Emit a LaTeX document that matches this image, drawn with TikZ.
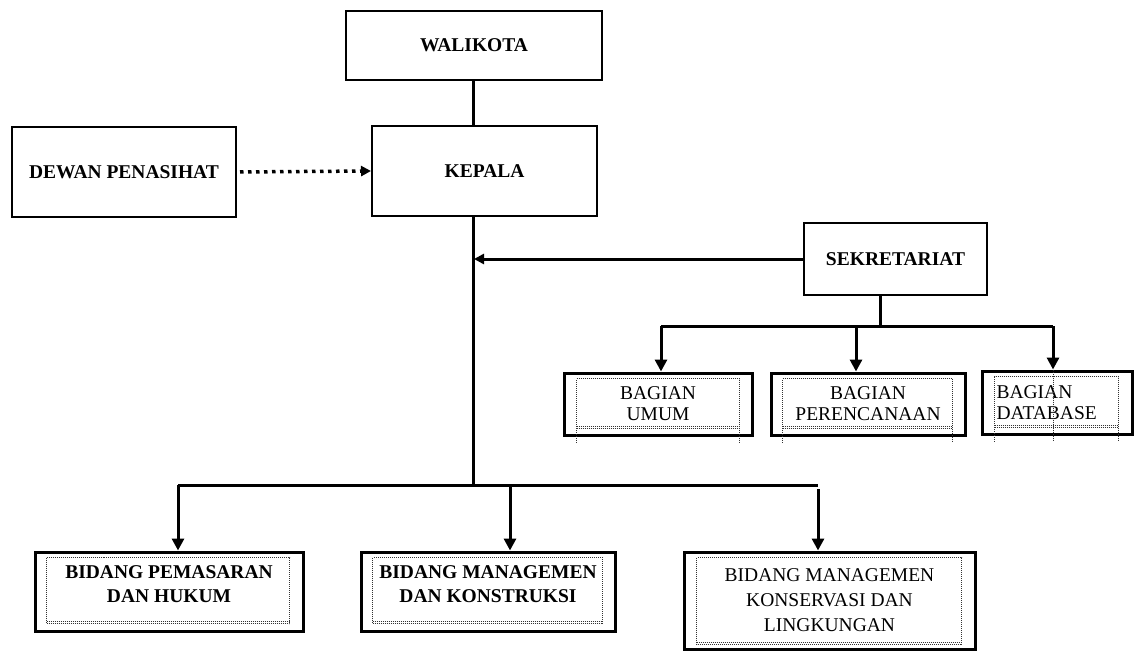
\documentclass[tikz,border=0pt]{standalone}
\usepackage{fontspec}
\setmainfont{Liberation Serif}
\usetikzlibrary{arrows.meta,calc,positioning}

\begin{document}
\begin{tikzpicture}[x=1pt, y=-1pt,
      box/.style={rectangle, draw=black, line width=2pt, align=center, font=\fontsize{19.5}{23}\selectfont\bfseries},
      unit/.style={rectangle, draw=black, line width=3pt, align=center, font=\fontsize{19.5}{24}\selectfont\bfseries},
      subunit/.style={rectangle, draw=black, line width=3pt, align=center, font=\fontsize{19.5}{21}\selectfont},
      dots/.style={draw=black!80, line width=0.7pt, dash pattern=on 1pt off 1pt},
      link/.style={line width=3pt, color=black},
      arr/.style={-{Triangle[length=12pt, width=12pt]}, line width=3pt, color=black},
      dotarr/.style={-{Triangle[length=10pt, width=10pt]}, line width=3.5pt, dash pattern=on 3.5pt off 4.5pt, color=black}
    ]
      \useasboundingbox (0,0) rectangle (1139,650);

      % Top: Walikota, Kepala, Dewan
      \node[box, minimum width=256pt, minimum height=69pt] (walikota) at (474, 45.5) {WALIKOTA};
      \node[box, minimum width=225pt, minimum height=90pt] (kepala) at (484.5, 171) {KEPALA};
      \node[box, minimum width=224pt, minimum height=90pt] (dewan) at (124, 172) {DEWAN PENASIHAT};

      % Right: Sekretariat and its Bagian
      \node[box, minimum width=183pt, minimum height=72pt] (sekretariat) at (895.5, 259) {SEKRETARIAT};
      \node[subunit, minimum width=188pt, minimum height=62pt] (umum) at (658, 404) {BAGIAN\\UMUM};
      \node[subunit, minimum width=194pt, minimum height=62pt] (perencanaan) at (868, 404) {BAGIAN\\PERENCANAAN};
      \node[subunit, minimum width=150pt, minimum height=63pt, text width=121pt, inner xsep=14.5pt, align=left] (database) at (1057, 402.5) {BAGIAN\\DATABASE};

      % Bottom: Bidang
      \node[unit, minimum width=268pt, minimum height=79pt, text depth=14pt] (pemasaran) at (169, 591.5) {BIDANG PEMASARAN\\DAN HUKUM};
      \node[unit, minimum width=254pt, minimum height=79pt, text depth=14pt] (konstruksi) at (488, 591.5) {BIDANG MANAGEMEN\\DAN KONSTRUKSI};
      \node[subunit, minimum width=291pt, minimum height=97pt, font=\fontsize{19.5}{25}\selectfont] (konservasi) at (829.5, 600.5) {BIDANG MANAGEMEN\\KONSERVASI DAN\\LINGKUNGAN};

      % Dotted inner frames
      \draw[dots] ($(pemasaran.north west)+(13,7)$) rectangle ($(pemasaran.south east)+(-15,-9)$);
      \draw[dots] ($(pemasaran.south west)+(13,-11)$) -- ($(pemasaran.south east)+(-15,-11)$);
      \draw[dots] ($(konstruksi.north west)+(13,7)$) rectangle ($(konstruksi.south east)+(-14,-9)$);
      \draw[dots] ($(konstruksi.south west)+(13,-11)$) -- ($(konstruksi.south east)+(-14,-11)$);
      \draw[dots] ($(konservasi.north west)+(14,7)$) rectangle ($(konservasi.south east)+(-15,-6)$);
      \draw[dots] ($(konservasi.south west)+(14,-8)$) -- ($(konservasi.south east)+(-15,-8)$);
      \foreach \b/\l/\r in {umum/14/-14, perencanaan/13/-14, database/14/-15} {
        \draw[dots] ($(\b.south west)+(\l,6)$) -- ($(\b.north west)+(\l,7)$) -- ($(\b.north east)+(\r,7)$) -- ($(\b.south east)+(\r,6)$);
        \draw[dots] ($(\b.south west)+(\l,-8)$) -- ($(\b.south east)+(\r,-8)$);
        \draw[dots] ($(\b.south west)+(\l,-10)$) -- ($(\b.south east)+(\r,-10)$);
      }

      % Junctions
      \coordinate (bus) at (473, 485);
      \coordinate (b1) at (178, 485);
      \coordinate (b2) at (510, 485);
      \coordinate (b3) at (818, 485);
      \coordinate (sbus) at (880, 326);
      \coordinate (s1) at (661, 326);
      \coordinate (s2) at (856, 326);
      \coordinate (s3) at (1053, 326);
      \draw[dots] (s3 |- database.north) -- ($(s3 |- database.south)+(0,6)$);

      % Main line
      \draw[link] (walikota.south -| bus) -- (bus |- kepala.north);
      \draw[dotarr, shorten <=3pt] (dewan.east) -- (kepala.west);
      \draw[link] (kepala.south -| bus) -- (bus);
      \draw[link] (b1) -- (b3);
      \draw[arr] (b1) -- (b1 |- pemasaran.north);
      \draw[arr] (b2) -- (b2 |- konstruksi.north);
      \draw[arr] ($(b3)+(0,4)$) -- (b3 |- konservasi.north);

      % Sekretariat branch
      \draw[arr, -{Triangle[length=10pt, width=10pt]}] (sekretariat.west) -- ($(sekretariat.west -| bus)+(1,0)$);
      \draw[link] (sekretariat.south -| sbus) -- (sbus);
      \draw[link] (s1) -- (s3);
      \draw[arr] (s1) -- (s1 |- umum.north);
      \draw[arr] (s2) -- (s2 |- perencanaan.north);
      \draw[arr] (s3) -- (s3 |- database.north);
    \end{tikzpicture}
\end{document}
